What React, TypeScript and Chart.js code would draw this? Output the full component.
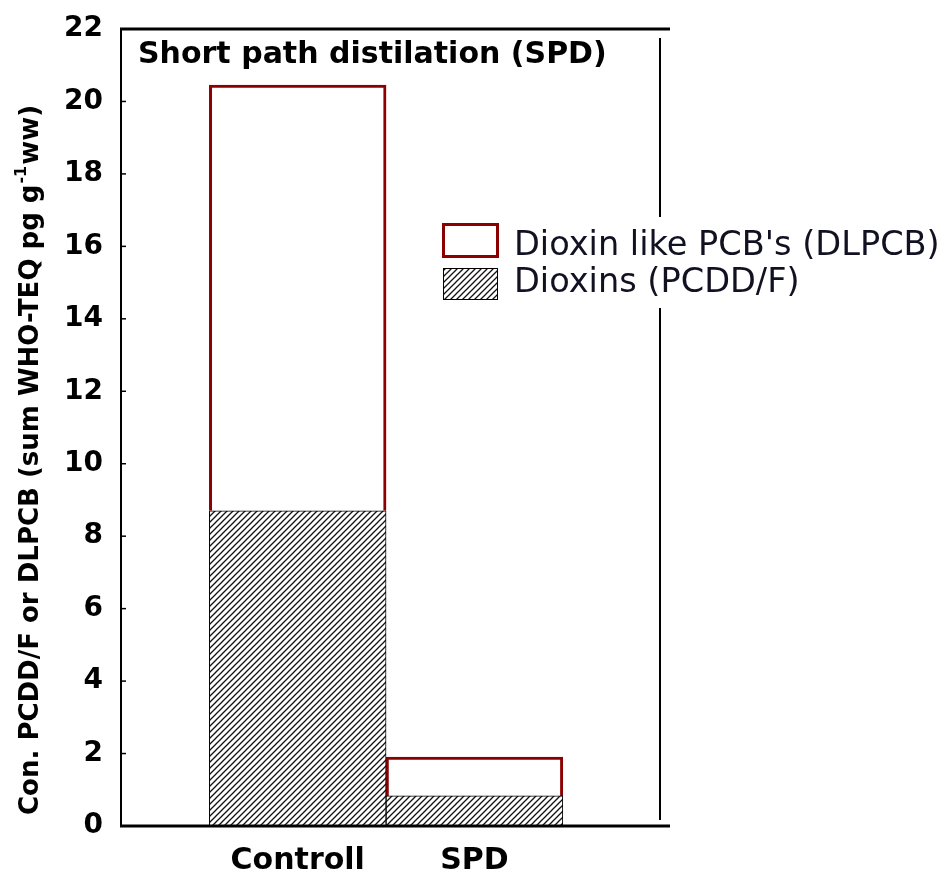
import { useEffect, useRef } from 'react';
import { Chart, registerables } from 'chart.js';

Chart.register(...registerables);

const categories = ['Controll', 'SPD'];
const dioxins = [8.7, 0.83];
const dlpcb = [11.75, 1.07];
const yMin = 0;
const yMax = 22;
const yStep = 2;
const chartTitle = 'Short path distilation (SPD)';
const yTitleMain = 'Con. PCDD/F or DLPCB (sum WHO-TEQ pg g';
const yTitleSup = '-1';
const yTitleEnd = 'ww)';
const seriesLabels = ['Dioxins (PCDD/F)', "Dioxin like PCB's (DLPCB)"];

const FONT = '"DejaVu Sans", "Liberation Sans", Arial, sans-serif';
const RED = '#8b0000';

function makeHatch(ctx: CanvasRenderingContext2D): CanvasPattern | string {
  const c = document.createElement('canvas');
  const s = 6;
  c.width = s;
  c.height = s;
  const p = c.getContext('2d');
  if (!p) return '#888';
  p.fillStyle = '#ffffff';
  p.fillRect(0, 0, s, s);
  p.strokeStyle = '#111111';
  p.lineWidth = 1.3;
  p.beginPath();
  p.moveTo(0, s);
  p.lineTo(s, 0);
  p.moveTo(-1, 1);
  p.lineTo(1, -1);
  p.moveTo(s - 1, s + 1);
  p.lineTo(s + 1, s - 1);
  p.stroke();
  return ctx.createPattern(c, 'repeat') || '#888';
}

const decorPlugin = {
  id: 'decor',
  afterDraw(chart: any) {
    const ctx: CanvasRenderingContext2D = chart.ctx;
    const a = chart.chartArea;
    const yScale = chart.scales.y;
    ctx.save();
    ctx.strokeStyle = '#000';
    // left axis
    ctx.lineWidth = 2;
    ctx.beginPath();
    ctx.moveTo(a.left, a.top);
    ctx.lineTo(a.left, a.bottom);
    ctx.stroke();
    // y tick marks (inward)
    ctx.lineWidth = 1.5;
    for (const t of yScale.ticks) {
      const py = yScale.getPixelForValue(t.value);
      ctx.beginPath();
      ctx.moveTo(a.left, py);
      ctx.lineTo(a.left + 5, py);
      ctx.stroke();
    }
    // top and bottom lines
    ctx.lineWidth = 3;
    ctx.beginPath();
    ctx.moveTo(a.left - 1, a.top);
    ctx.lineTo(a.right + 10, a.top);
    ctx.moveTo(a.left - 1, a.bottom);
    ctx.lineTo(a.right + 10, a.bottom);
    ctx.stroke();
    // right line
    ctx.lineWidth = 2;
    ctx.beginPath();
    ctx.moveTo(a.right, a.top + 9);
    ctx.lineTo(a.right, a.bottom - 6);
    ctx.stroke();

    // chart title
    ctx.fillStyle = '#000';
    ctx.font = `bold 30px ${FONT}`;
    ctx.textAlign = 'left';
    ctx.textBaseline = 'alphabetic';
    ctx.fillText(chartTitle, a.left + 17, a.top + 34);

    // y title
    ctx.save();
    ctx.translate(31, a.bottom - 11);
    ctx.rotate(-Math.PI / 2);
    ctx.textBaseline = 'middle';
    ctx.font = `bold 26px ${FONT}`;
    ctx.fillText(yTitleMain, 0, 0);
    let w = ctx.measureText(yTitleMain).width;
    ctx.font = `bold 16px ${FONT}`;
    ctx.fillText(yTitleSup, w + 1, -9);
    w += ctx.measureText(yTitleSup).width + 2;
    ctx.font = `bold 26px ${FONT}`;
    ctx.fillText(yTitleEnd, w, 0);
    ctx.restore();

    // legend
    const lx = a.left + 321;
    const ly = a.top + 194;
    ctx.fillStyle = '#ffffff';
    ctx.fillRect(lx - 10, ly - 6, 948 - (lx - 10), 91);
    const ds = chart.data.datasets.slice().reverse();
    ds.forEach((d: any, i: number) => {
      const bx = lx + (i === 0 ? 0 : 1);
      const by = ly + i * 45;
      const bw = i === 0 ? 57 : 55;
      const bh = i === 0 ? 35 : 32;
      ctx.fillStyle = d.backgroundColor;
      ctx.fillRect(bx, by, bw, bh);
      ctx.strokeStyle = d.borderColor;
      ctx.lineWidth = d.borderWidth;
      ctx.strokeRect(bx + d.borderWidth / 2, by + d.borderWidth / 2, bw - d.borderWidth, bh - d.borderWidth);
      ctx.fillStyle = '#111122';
      ctx.font = `33.6px ${FONT}`;
      ctx.textBaseline = 'alphabetic';
      ctx.fillText(d.label, lx + 72, ly + 32 + i * 37);
    });
    ctx.restore();
  },
};

export default function App() {
  const ref = useRef<HTMLCanvasElement | null>(null);
  useEffect(() => {
    const canvas = ref.current;
    if (!canvas) return;
    const ctx = canvas.getContext('2d');
    if (!ctx) return;
    const hatch = makeHatch(ctx);
    const chart = new Chart(ctx, {
      type: 'bar',
      data: {
        datasets: [
          {
            label: seriesLabels[0],
            data: dioxins.map((v, i) => ({ x: i + 1, y: v })),
            backgroundColor: hatch as any,
            borderColor: '#000000',
            borderWidth: 1,
            borderSkipped: false,
            stack: 'a',
            barPercentage: 1,
            categoryPercentage: 1,
          },
          {
            label: seriesLabels[1],
            data: dlpcb.map((v, i) => ({ x: i + 1, y: v })),
            backgroundColor: '#ffffff',
            borderColor: RED,
            borderWidth: 3,
            borderSkipped: 'bottom',
            stack: 'a',
            barPercentage: 1,
            categoryPercentage: 1,
          },
        ],
      },
      options: {
        responsive: false,
        animation: false,
        layout: { padding: { top: 29, right: 288, bottom: 0, left: 0 } },
        plugins: {
          legend: { display: false },
          title: { display: false },
          tooltip: { enabled: false },
        },
        scales: {
          x: {
            type: 'linear',
            offset: false,
            min: 0,
            max: 3.05,
            grid: { display: false, drawTicks: false },
            border: { display: false },
            afterBuildTicks: (s: any) => {
              s.ticks = categories.map((_, i) => ({ value: i + 1 }));
            },
            afterFit: (s: any) => {
              s.height = 49;
              s.paddingLeft = 0;
              s.paddingRight = 0;
            },
            ticks: {
              autoSkip: false,
              maxRotation: 0,
              padding: 17,
              color: '#000',
              font: { family: FONT, size: 30, weight: 'bold' },
              callback: (_v: any, i: number) => categories[i],
            },
          },
          y: {
            stacked: true,
            min: yMin,
            max: yMax,
            grid: { display: false, drawTicks: false },
            border: { display: false },
            afterFit: (s: any) => {
              s.width = 121;
              s.paddingTop = 0;
              s.paddingBottom = 0;
            },
            ticks: {
              stepSize: yStep,
              padding: 18,
              color: '#000',
              font: { family: FONT, size: 28, weight: 'bold' },
            },
          },
        },
      },
      plugins: [decorPlugin],
    });
    return () => chart.destroy();
  }, []);
  return (
    <canvas
      ref={ref}
      width={948}
      height={875}
      style={{ position: 'absolute', left: 0, top: 0, display: 'block' }}
    />
  );
}
